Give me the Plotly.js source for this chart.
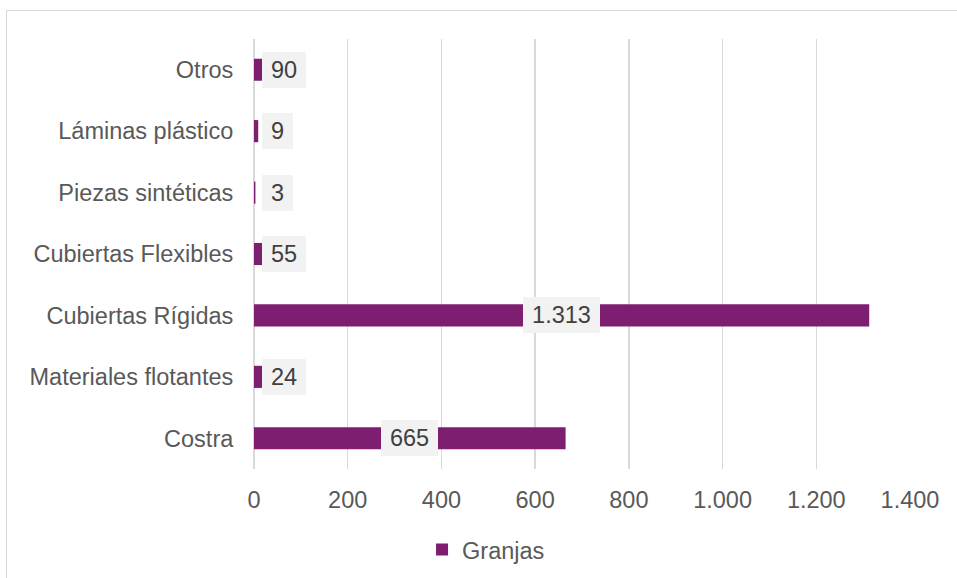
<!DOCTYPE html>
<html>
<head>
<meta charset="utf-8">
<script src="https://cdn.plot.ly/plotly-3.0.1.min.js"></script>
<style>
  html, body { margin: 0; padding: 0; background: #ffffff; overflow: hidden; }
  #frame { position: absolute; left: 6px; top: 10px; width: 1000px; height: 620px; border: 1.5px solid #d9d9d9; box-sizing: border-box; }
  #chart { position: absolute; left: 0; top: 0; width: 957px; height: 578px; }
</style>
</head>
<body>
<div id="frame"></div>
<div id="chart"></div>
<script>
const categories = ["Costra", "Materiales flotantes", "Cubiertas Rígidas", "Cubiertas Flexibles", "Piezas sintéticas", "Láminas plástico", "Otros"];
const granjas = [665, 24, 1313, 55, 3, 9, 90];
const seriesName = "Granjas";
const xTickVals = [0, 200, 400, 600, 800, 1000, 1200, 1400];

const FONT = '"Liberation Sans", Arial, sans-serif';
const FS = 23.5;
const W = 957, H = 578;
const M = { l: 254, r: 47, t: 39, b: 109 };
const xMax = 1400;
const pxPerUnit = (W - M.l - M.r) / xMax;

function fmt(v) {
  return String(v).replace(/\B(?=(\d{3})+(?!\d))/g, '.');
}
function textWidth(s) {
  let w = 0;
  for (const c of s) w += (c === '.' || c === ',') ? 0.278 : 0.556;
  return w * FS;
}

const annotations = granjas.map((v, i) => {
  const txt = fmt(v);
  const boxW = Math.round(textWidth(txt) + 18);
  const centerPx = (v / 2) * pxPerUnit;
  const base = {
    y: categories[i], yref: 'y', xref: 'x',
    text: txt, showarrow: false,
    font: { family: FONT, size: FS, color: '#404040' },
    bgcolor: '#f2f2f2', borderpad: 0, borderwidth: 0,
    width: boxW, height: 36, align: 'center', valign: 'middle'
  };
  if (centerPx - boxW / 2 < 8) {
    return Object.assign(base, { x: 0, xanchor: 'left', xshift: 8 });
  }
  return Object.assign(base, { x: v / 2, xanchor: 'center' });
});

const trace = {
  type: 'bar', orientation: 'h',
  y: categories, x: granjas, name: seriesName,
  marker: { color: '#7e1e70' },
  width: 0.36,
  hoverinfo: 'x+y',
  showlegend: true
};

const layout = {
  width: W, height: H,
  margin: Object.assign({ autoexpand: false }, M),
  paper_bgcolor: 'rgba(0,0,0,0)',
  plot_bgcolor: 'rgba(0,0,0,0)',
  separators: ',.',
  font: { family: FONT, size: FS, color: '#595959' },
  bargap: 0.64,
  xaxis: {
    range: [0, xMax],
    tickvals: xTickVals,
    separatethousands: true,
    tickformat: ',d',
    showgrid: true, gridcolor: '#d9d9d9', gridwidth: 1.3,
    zeroline: true, zerolinecolor: '#d9d9d9', zerolinewidth: 1.5,
    showline: false,
    ticks: 'outside', ticklen: 10, tickcolor: 'rgba(0,0,0,0)',
    tickfont: { family: FONT, size: FS, color: '#595959' },
    automargin: false,
    fixedrange: true
  },
  yaxis: {
    type: 'category',
    categoryorder: 'array', categoryarray: categories,
    range: [-0.5, categories.length - 0.5],
    showgrid: false, zeroline: false, showline: false,
    ticks: 'outside', ticklen: 15, tickcolor: 'rgba(0,0,0,0)',
    tickfont: { family: FONT, size: FS, color: '#595959' },
    automargin: false,
    fixedrange: true
  },
  showlegend: true,
  legend: {
    orientation: 'h',
    xref: 'container', yref: 'container',
    x: 0.441, xanchor: 'left',
    y: 0.049, yanchor: 'middle',
    font: { family: FONT, size: FS, color: '#595959' },
    bgcolor: 'rgba(0,0,0,0)'
  },
  annotations: annotations
};

Plotly.newPlot('chart', [trace], layout, { displayModeBar: false, staticPlot: true });
</script>
</body>
</html>
